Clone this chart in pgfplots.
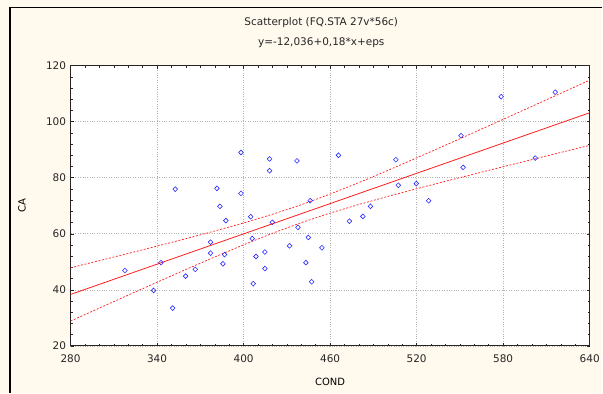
\documentclass[border=0pt]{standalone}
\usepackage{pgfplots}
\pgfplotsset{compat=1.18}
\usepackage{fontspec}
\setmainfont{DejaVu Sans}
\definecolor{bg}{RGB}{255,249,238}
\definecolor{ptc}{RGB}{45,45,255}
\definecolor{lred}{RGB}{255,30,30}
\begin{document}
\begin{tikzpicture}
\fill[bg] (0pt,0pt) rectangle (603pt,394pt);
\draw[black, line width=1.6pt] (10pt,0pt) -- (10pt,386.5pt) -- (603pt,386.5pt);
\node[font=\fontsize{10.5}{12}\selectfont, text=black!85] at (322pt,371pt) {Scatterplot (FQ.STA 27v*56c)};
\node[font=\fontsize{10.5}{12}\selectfont, text=black!85] at (322pt,351pt) {y=-12,036+0,18*x+eps};
\begin{axis}[
  at={(70.7pt,47.3pt)}, anchor=south west,
  scale only axis, width=520.3pt, height=281pt,
  xmin=280, xmax=640, ymin=20, ymax=120,
  xtick={280,340,...,640}, ytick={20,40,...,120},
  minor x tick num=5, minor y tick num=4,
  tick align=inside,
  major tick length=3pt, minor tick length=2pt,
  grid=major,
  major grid style={dotted, line width=0.6pt, black!30},
  axis line style={black!85, line width=0.9pt},
  tick style={black!85, line width=0.5pt},
  ticklabel style={font=\fontsize{10.5}{12}\selectfont, text=black!85},
  /pgf/number format/assume math mode=true,
  /pgf/number format/1000 sep={},
  axis background/.style={fill=white},
  xticklabel style={yshift=-5pt},
  yticklabel style={xshift=-1pt},
  xlabel={COND}, ylabel={CA},
  label style={font=\fontsize{10.5}{12}\selectfont, text=black!85},
  every axis x label/.style={at={(axis description cs:0.5,-0.128)}, anchor=center},
  every axis y label/.style={at={(axis description cs:-0.0936,0.5)}, anchor=center, rotate=90},
  clip=true,
]
% regression line
\addplot[lred, line width=0.8pt] coordinates {
(280,38.364) (640,103.164)};
% upper 95% band
\addplot[lred, line width=0.7pt, dash pattern=on 2pt off 1.6pt] coordinates {
(280,47.86) (300,50.42) (320,52.99) (340,55.60) (360,58.26) (380,60.99)
(400,63.86) (420,66.95) (440,70.36) (460,74.15) (480,78.26) (500,82.59)
(520,87.06) (540,91.60) (560,96.19) (580,100.82) (600,105.46) (620,110.12) (640,114.79)};
% lower 95% band
\addplot[lred, line width=0.7pt, dash pattern=on 2pt off 1.6pt] coordinates {
(280,28.86) (300,33.51) (320,38.13) (340,42.73) (360,47.27) (380,51.73)
(400,56.06) (420,60.18) (440,63.97) (460,67.38) (480,70.46) (500,73.33)
(520,76.07) (540,78.73) (560,81.33) (580,83.91) (600,86.47) (620,89.01) (640,91.53)};
% observations
\addplot[only marks, mark=diamond, mark size=2.4pt, draw=ptc,
  mark options={xscale=1.3, line width=0.6pt, fill=none}] coordinates {
(317.7,46.9) (337.6,39.8) (342.7,49.7) (350.8,33.5) (352.6,75.9)
(359.8,44.9) (366.5,47.3) (377.1,57.0) (377.1,53.1) (381.5,76.2)
(383.6,69.8) (385.7,49.3) (386.8,52.6) (387.7,64.7) (398.2,89.0)
(398.2,74.4) (404.9,66.1) (406.0,58.3) (406.7,42.2) (408.6,51.9)
(414.8,53.5) (414.8,47.6) (418.0,86.7) (418.0,82.5) (419.9,64.1)
(431.9,55.7) (437.0,86.0) (437.7,62.3) (443.2,49.7) (444.9,58.7)
(446.2,71.8) (447.2,42.9) (454.3,55.0) (465.8,88.0) (473.4,64.5)
(482.7,66.2) (488.0,69.8) (505.6,86.4) (507.3,77.3) (519.8,77.9)
(528.3,71.8) (550.8,95.0) (552.2,83.7) (578.6,108.9) (602.2,87.0)
(616.1,110.5)};
\end{axis}
\end{tikzpicture}
\end{document}
